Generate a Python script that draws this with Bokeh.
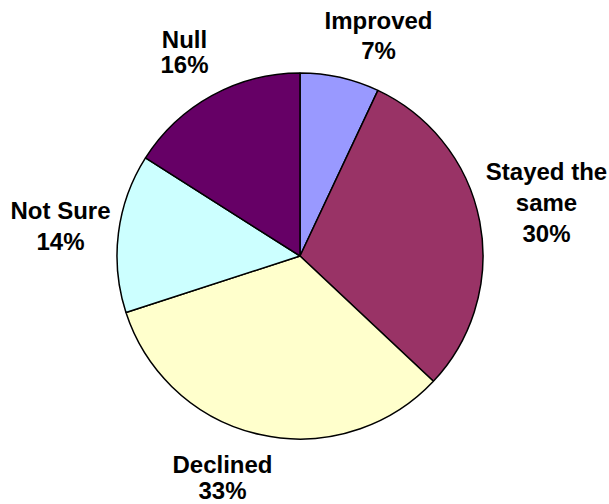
import math
from bokeh.plotting import figure
from bokeh.models import Range1d, ColumnDataSource
from bokeh.core.properties import value
from bokeh.embed import file_html
from bokeh.resources import INLINE

# ---- data ----
categories = ["Improved", "Stayed the\nsame", "Declined", "Not Sure", "Null"]
percents = [7, 30, 33, 14, 16]
colors = ["#9999FF", "#993366", "#FFFFCC", "#CCFFFF", "#660066"]

# ---- layout (screen pixel coordinates in the window) ----
W, H = 609, 504
CX, CY, R = 299.5, 255.5, 183
# label anchors: centre x, first-line baseline y, line gap
label_pos = [(378, 28, 30), (546, 179, 31), (222, 471.5, 26.5), (60, 218, 31), (184, 46.5, 25)]
BASE_FIX = 8  # renderer places text this much lower than the given y

p = figure(width=W, height=H, output_backend="svg", toolbar_location=None,
           x_range=Range1d(0, W), y_range=Range1d(-H, 0),
           min_border=0, border_fill_color="white", background_fill_color="white")
p.axis.visible = False
p.grid.visible = False
p.outline_line_color = None

total = float(sum(percents))
starts, ends = [], []
acc = 0.0
for v in percents:
    a0 = math.pi / 2 - 2 * math.pi * acc / total
    acc += v
    a1 = math.pi / 2 - 2 * math.pi * acc / total
    starts.append(a0)
    ends.append(a1)

src = ColumnDataSource(dict(start=starts, end=ends, color=colors,
                            x=[CX] * len(percents), y=[-CY] * len(percents)))
p.wedge(x="x", y="y", radius=R, start_angle="start", end_angle="end",
        direction="clock", fill_color="color", line_color="black",
        line_width=1.5, source=src)

tx, ty, tt = [], [], []
for cat, v, (lx, ly, gap) in zip(categories, percents, label_pos):
    lines = cat.split("\n") + [f"{v}%"]
    for i, ln in enumerate(lines):
        tx.append(lx)
        ty.append(-(ly + i * gap - BASE_FIX))
        tt.append(ln)

p.text(x=tx, y=ty, text=tt, text_font=value("Liberation Sans"),
       text_font_style="bold", text_font_size="24px", text_color="black",
       text_align="center", text_baseline="alphabetic")

open("out.html", "w").write(file_html(p, INLINE))
